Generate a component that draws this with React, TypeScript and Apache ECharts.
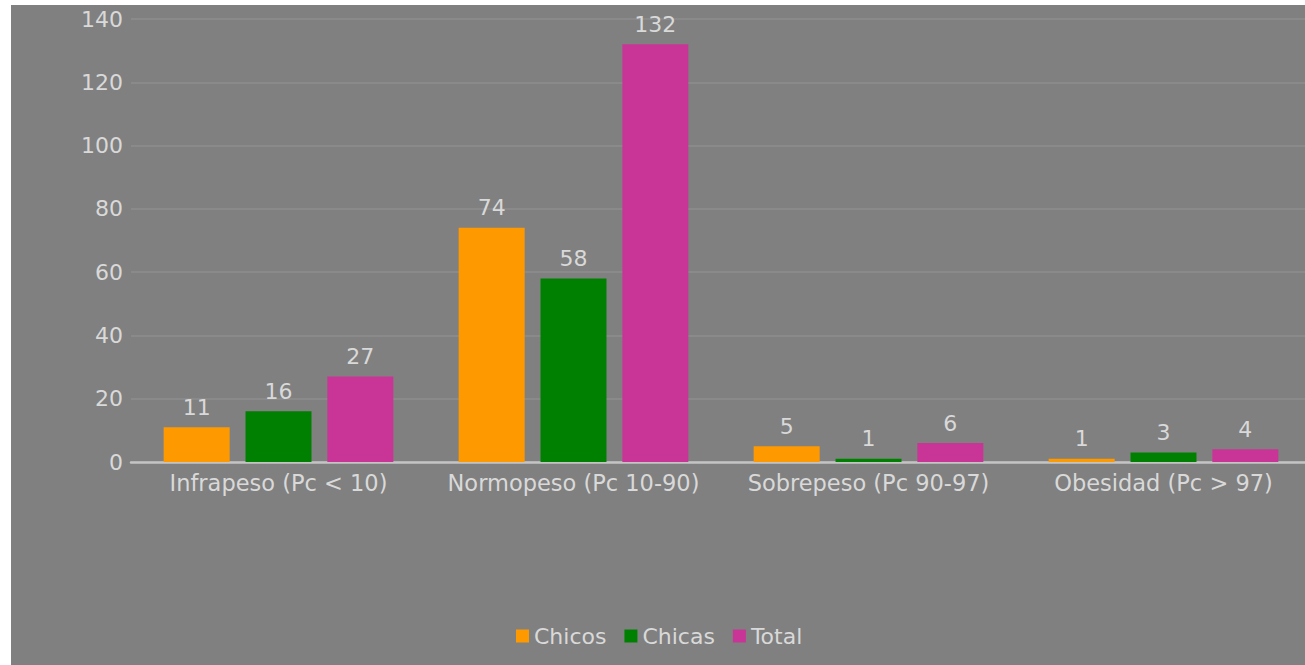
import React, { useEffect, useRef } from "react";
import * as echarts from "echarts";

const categories = ["Infrapeso (Pc < 10)", "Normopeso (Pc 10-90)", "Sobrepeso (Pc 90-97)", "Obesidad (Pc > 97)"];
const chicos = [11, 74, 5, 1];
const chicas = [16, 58, 1, 3];
const total = [27, 132, 6, 4];
const seriesNames = ["Chicos", "Chicas", "Total"];
const seriesColors = ["#ff9900", "#008000", "#c83597"];

export default function App() {
  const ref = useRef<HTMLDivElement>(null);
  useEffect(() => {
    if (!ref.current) return;
    const chart = echarts.init(ref.current, undefined, { renderer: "svg" });
    const textColor = "#d9d9d9";
    const font = "DejaVu Sans";
    const data = [chicos, chicas, total];
    chart.setOption({
      animation: false,
      backgroundColor: "#808080",
      textStyle: { fontFamily: font },
      grid: { left: 120, right: 0, top: 14, bottom: 203, containLabel: false },
      legend: {
        bottom: 13,
        left: 500,
        itemWidth: 13,
        itemHeight: 13,
        itemGap: 18,
        icon: "rect",
        textStyle: { color: textColor, fontSize: 22, fontFamily: font },
        data: seriesNames,
      },
      xAxis: {
        type: "category",
        data: categories,
        axisTick: { show: false },
        axisLine: { lineStyle: { color: "#c4c4c4", width: 2.5 } },
        axisLabel: { color: textColor, fontSize: 22.5, fontFamily: font, margin: 9, interval: 0 },
      },
      yAxis: {
        type: "value",
        min: 0,
        max: 140,
        interval: 20,
        axisLine: { show: false },
        axisTick: { show: false },
        splitLine: { lineStyle: { color: "#8a8a8a", width: 2 } },
        axisLabel: { color: textColor, fontSize: 22, fontFamily: font, margin: 8 },
      },
      series: seriesNames.map((name, i) => ({
        name,
        type: "bar",
        data: data[i],
        barWidth: 66,
        barGap: "24%",
        itemStyle: { color: seriesColors[i] },
        label: {
          show: true,
          position: "top",
          distance: 9,
          color: textColor,
          fontSize: 22,
          fontFamily: font,
        },
      })),
    });
    return () => chart.dispose();
  }, []);
  return (
    <div style={{ position: "absolute", left: 11, top: 5, width: 1294, height: 660, overflow: "hidden" }}>
      <div ref={ref} style={{ width: 1300, height: 660 }} />
    </div>
  );
}
